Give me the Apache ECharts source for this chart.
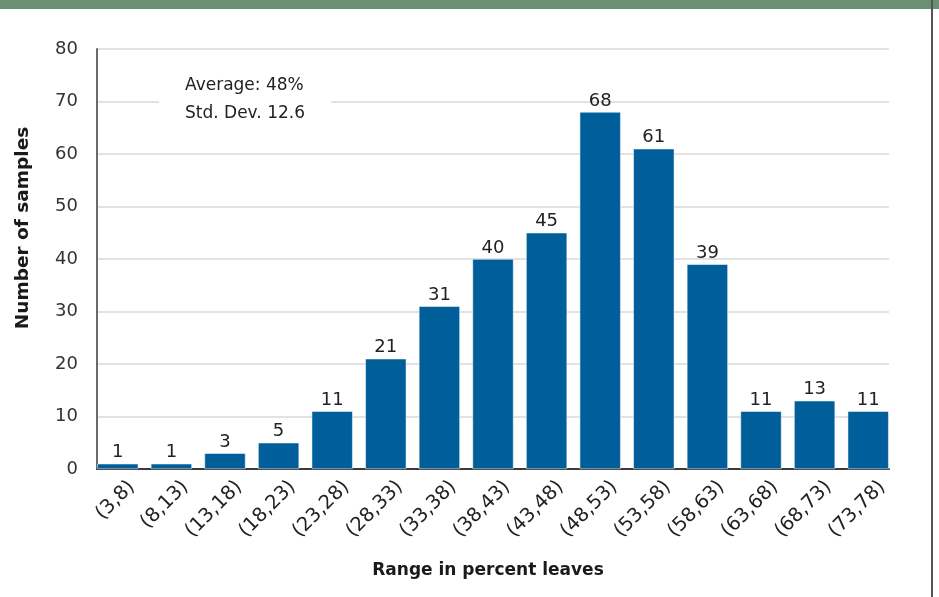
<!DOCTYPE html>
<html>
<head>
<meta charset="utf-8">
<script src="https://cdn.jsdelivr.net/npm/echarts@6/dist/echarts.min.js"></script>
<style>
html,body{margin:0;padding:0;background:#fff;}
#main{width:939px;height:597px;}
</style>
</head>
<body>
<div id="main"></div>
<script>
var categories = ['(3,8)','(8,13)','(13,18)','(18,23)','(23,28)','(28,33)','(33,38)','(38,43)','(43,48)','(48,53)','(53,58)','(58,63)','(63,68)','(68,73)','(73,78)'];
var counts = [1,1,3,5,11,21,31,40,45,68,61,39,11,13,11];
var yTicks = {min:0, max:80, interval:10};
var statsText = ['Average: 48%','Std. Dev. 12.6'];

var FONT = '"DejaVu Sans", sans-serif';
var chart = echarts.init(document.getElementById('main'), null, {renderer:'canvas'});
chart.setOption({
  backgroundColor:'#ffffff',
  animation:false,
  grid:[
    {left:97, right:50, top:49, bottom:128},
    {left:91, right:44, top:49, bottom:128},
    {left:105, right:30, top:49, bottom:128}
  ],
  xAxis:[
    {
      gridIndex:0,
      type:'category',
      data:categories,
      name:'Range in percent leaves',
      nameLocation:'middle',
      nameGap:93,
      nameTextStyle:{fontFamily:FONT, fontSize:17, fontWeight:'bold', color:'#1a1a1a', padding:[0,10,0,0]},
      axisLine:{lineStyle:{color:'#3a3a3a', width:2}},
      axisTick:{show:false},
      axisLabel:{show:false}
    },
    {
      gridIndex:1,
      type:'category',
      data:categories,
      axisLine:{show:false},
      axisTick:{show:false},
      axisLabel:{show:false}
    },
    {
      gridIndex:2,
      type:'category',
      data:categories,
      axisLine:{show:false},
      axisTick:{show:false},
      axisLabel:{rotate:45, fontFamily:FONT, fontSize:19.5, color:'#222', margin:15, interval:0}
    }
  ],
  yAxis:[
    {
      gridIndex:0,
      type:'value',
      min:yTicks.min, max:yTicks.max, interval:yTicks.interval,
      name:'Number of samples',
      nameLocation:'middle',
      nameGap:64,
      nameTextStyle:{fontFamily:FONT, fontSize:18.5, fontWeight:'bold', color:'#1a1a1a', padding:[0,0,0,62]},
      axisLine:{show:true, lineStyle:{color:'#6a6a6a', width:2}},
      axisTick:{show:false},
      axisLabel:{fontFamily:FONT, fontSize:18, color:'#333', margin:19},
      splitLine:{lineStyle:{color:'#d9d9d9', width:1.5}}
    },
    {
      gridIndex:1,
      type:'value',
      min:yTicks.min, max:yTicks.max, interval:yTicks.interval,
      axisLine:{show:false}, axisTick:{show:false}, axisLabel:{show:false}, splitLine:{show:false}
    },
    {
      gridIndex:2,
      type:'value',
      min:yTicks.min, max:yTicks.max, interval:yTicks.interval,
      axisLine:{show:false}, axisTick:{show:false}, axisLabel:{show:false}, splitLine:{show:false}
    }
  ],
  series:[{
    type:'bar',
    xAxisIndex:1, yAxisIndex:1,
    data:counts,
    barWidth:41,
    z:3,
    itemStyle:{color:'#005f9b', borderColor:'#ffffff', borderWidth:0.5},
    label:{show:true, position:'top', distance:2, fontFamily:FONT, fontSize:18, color:'#222'}
  }],
  graphic:[
    {type:'rect', shape:{x:0,y:0,width:939,height:9}, style:{fill:'#6b8f73'}, z:100},
    {type:'rect', shape:{x:931,y:0,width:2,height:597}, style:{fill:'#555555'}, z:100},
    {type:'rect', shape:{x:159,y:70,width:172,height:60}, style:{fill:'#ffffff'}, z:50},
    {type:'text', left:185, top:72, z:51, style:{text:statsText.join('\n'), font:'17px '+FONT, fill:'#222', lineHeight:28}}
  ]
});
</script>
</body>
</html>
